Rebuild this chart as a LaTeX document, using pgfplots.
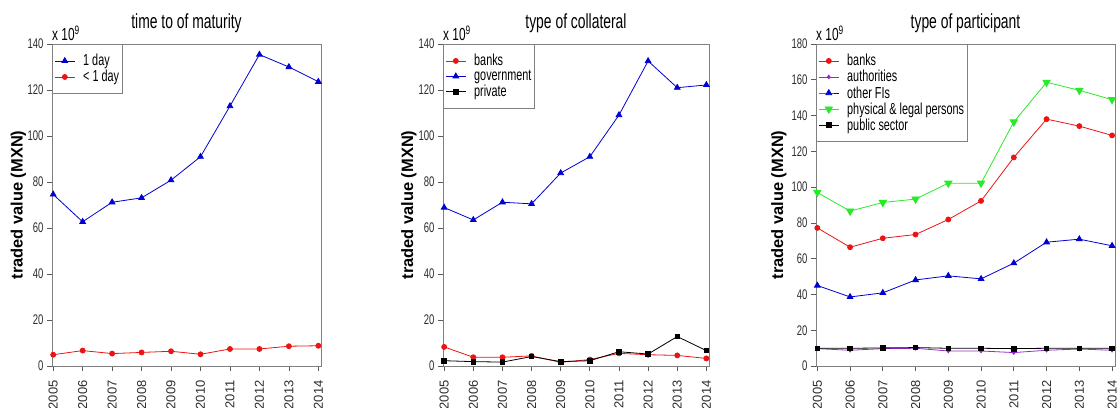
\documentclass[border=0pt]{standalone}
\usepackage{fontspec}
\setmainfont[FakeStretch=0.68]{Liberation Sans}
\newfontfamily\plainsans{Liberation Sans}
\usepackage{pgfplots}
\pgfplotsset{compat=1.18}

\definecolor{rblue}{RGB}{0,0,210}
\definecolor{rred}{RGB}{235,20,20}
\definecolor{rgreen}{RGB}{40,235,40}
\definecolor{rpurple}{RGB}{150,40,205}
\definecolor{framegray}{RGB}{128,128,128}
\definecolor{labgray}{RGB}{45,45,45}

\pgfplotsset{
  rpanel/.style={
    scale only axis,
    height=322bp,
    xmin=2004.96, xmax=2014.09,
    ymin=0,
    clip=false,
    xtick={2005,2006,2007,2008,2009,2010,2011,2012,2013,2014},
    xticklabels={2005,2006,2007,2008,2009,2010,2011,2012,2013,2014},
    axis line style={framegray, line width=0.9bp},
    tick align=outside,
    xtick pos=left, ytick pos=left,
    major tick length=5bp,
    tick style={black!65, line width=0.7bp},
    /pgf/number format/assume math mode=true,
    yticklabel style={font=\fontsize{14}{14}\selectfont, text=labgray},
    xticklabel shift=6bp,
    xticklabel style={rotate=90, anchor=east,
      font=\plainsans\fontsize{13}{13}\selectfont, text=labgray},
    title style={font=\fontsize{20.5}{20.5}\selectfont, at={(0.5,1)},
      anchor=base, yshift=10bp},
    ylabel={traded value (MXN)},
    legend style={at={(0,1)}, anchor=north west, draw=framegray,
      line width=0.8bp, font=\fontsize{16}{16}\selectfont,
      inner xsep=2bp, inner ysep=9bp, row sep=1bp,
      nodes={inner sep=1bp},
      /tikz/every odd column/.append style={column sep=7bp}},
    legend cell align=left,
    legend image code/.code={
      \draw[mark repeat=2,mark phase=2] plot coordinates {(0bp,0bp) (10bp,0bp) (20bp,0bp)};},
    every axis plot/.append style={line width=0.8bp},
  },
  ylabpos/.style={every axis y label/.style={
      at={(axis description cs:#1,0.5)}, rotate=90, anchor=center,
      font=\plainsans\bfseries\fontsize{16.5}{16.5}\selectfont}},
  scalenote/.style={after end axis/.code={
      \node[anchor=base west, inner sep=0pt, font=\fontsize{17.5}{17.5}\selectfont]
        at ([yshift=3bp]rel axis cs:0,1) {x 10\textsuperscript{9}};}},
  sblue/.style={rblue, mark=triangle*, mark size=3.3bp},
  sred/.style={rred, mark=*, mark size=2.5bp},
  sblack/.style={black, mark=square*, mark size=2.3bp},
  sgreen/.style={rgreen, mark=triangle*, mark size=4.2bp, mark options={rotate=180}},
  spurple/.style={rpurple, mark=diamond*, mark size=1.8bp},
}

\begin{document}
\begin{tikzpicture}

% time to maturity
\begin{axis}[rpanel, ylabpos=-0.125, scalenote,
  at={(52bp,42bp)}, anchor=south west, width=269bp,
  ymax=140, ytick={0,20,...,140},
  title={time to of maturity}]
\addplot[sblue] coordinates {
  (2005,74.6) (2006,62.7) (2007,71.2) (2008,73.1) (2009,80.8)
  (2010,91.0) (2011,113.0) (2012,135.4) (2013,130.0) (2014,123.6)};
\addlegendentry{1 day}
\addplot[sred] coordinates {
  (2005,4.9) (2006,6.7) (2007,5.4) (2008,5.9) (2009,6.4)
  (2010,5.1) (2011,7.4) (2012,7.4) (2013,8.6) (2014,8.8)};
\addlegendentry{< 1 day}
\end{axis}

% type of collateral
\begin{axis}[rpanel, ylabpos=-0.128, scalenote,
  at={(443bp,42bp)}, anchor=south west, width=266bp,
  ymax=140, ytick={0,20,...,140},
  title={type of collateral}]
\addplot[sred] coordinates {
  (2005,8.3) (2006,3.8) (2007,3.8) (2008,4.4) (2009,1.6)
  (2010,2.8) (2011,5.5) (2012,4.9) (2013,4.6) (2014,3.3)};
\addlegendentry{banks}
\addplot[sblue] coordinates {
  (2005,68.9) (2006,63.5) (2007,71.2) (2008,70.5) (2009,83.9)
  (2010,91.0) (2011,109.1) (2012,132.6) (2013,121.0) (2014,122.2)};
\addlegendentry{government}
\addplot[sblack] coordinates {
  (2005,2.3) (2006,1.9) (2007,1.7) (2008,4.1) (2009,1.9)
  (2010,2.3) (2011,6.2) (2012,5.2) (2013,12.8) (2014,6.7)};
\addlegendentry{private}
\end{axis}

% type of participant
\begin{axis}[rpanel, ylabpos=-0.124, scalenote,
  at={(816bp,42bp)}, anchor=south west, width=299bp,
  ymax=180, ytick={0,20,...,180},
  title={type of participant}]
\addplot[sred] coordinates {
  (2005,77.2) (2006,66.4) (2007,71.4) (2008,73.5) (2009,81.9)
  (2010,92.3) (2011,116.6) (2012,138.0) (2013,134.1) (2014,128.9)};
\addlegendentry{banks}
\addplot[spurple] coordinates {
  (2005,9.7) (2006,8.8) (2007,9.7) (2008,9.9) (2009,8.4)
  (2010,8.4) (2011,7.5) (2012,8.8) (2013,9.5) (2014,8.8)};
\addlegendentry{authorities}
\addplot[sblue] coordinates {
  (2005,45.0) (2006,38.6) (2007,40.9) (2008,48.1) (2009,50.4)
  (2010,48.7) (2011,57.5) (2012,69.2) (2013,70.9) (2014,67.2)};
\addlegendentry{other FIs}
\addplot[sgreen] coordinates {
  (2005,97.0) (2006,86.6) (2007,91.4) (2008,93.3) (2009,102.2)
  (2010,102.2) (2011,136.4) (2012,158.6) (2013,154.1) (2014,148.9)};
\addlegendentry{physical \& legal persons}
\addplot[sblack] coordinates {
  (2005,9.9) (2006,9.9) (2007,10.1) (2008,10.3) (2009,9.9)
  (2010,9.9) (2011,9.7) (2012,9.9) (2013,9.9) (2014,9.9)};
\addlegendentry{public sector}
\end{axis}

\pgfresetboundingbox
\path[use as bounding box] (0bp,0bp) rectangle (1117bp,408bp);
\end{tikzpicture}
\end{document}
